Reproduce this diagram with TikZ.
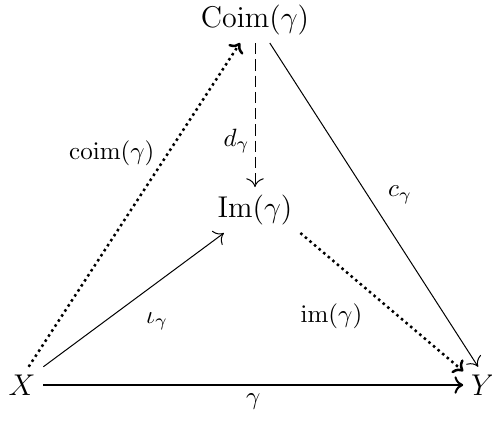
\documentclass[tikz,border=0pt]{standalone}
\usepackage{amsmath}
\usepackage{amssymb}
\usetikzlibrary{calc,arrows.meta}
\usetikzlibrary{positioning}
\begin{document}
\begin{tikzpicture}[x=0.4pt,y=-0.4pt,>={To[length=3.5pt,width=7pt]}]
        \useasboundingbox (0,0) rectangle (492,422);
        \tikzset{obj/.style={font=\large,inner sep=3pt},
                 lbl/.style={font=\normalsize,inner sep=2pt},
                 dotarr/.style={->,line width=1pt,dash pattern=on 1pt off 1.4pt}}
        \node[obj] (coim) at (255,20) {$\mathrm{Coim}(\gamma)$};
        \node[obj] (im) at (255,210) {$\mathrm{Im}(\gamma)$};
        \node[obj] (x) at (22,385) {$X$};
        \node[obj] (y) at (483,385) {$Y$};
        \draw[->,dash pattern=on 4.5pt off 2pt] (coim) -- node[lbl,left,pos=0.68] {$d_\gamma$} (im);
        \draw[dotarr] (x.70) -- node[lbl,left=3pt,pos=0.66] {$\mathrm{coim}(\gamma)$} (coim);
        \draw[->] (coim) -- node[lbl,right=6pt,pos=0.47] {$c_\gamma$} (y.105);
        \draw[->] (x.north east) -- node[lbl,below right=4pt,pos=0.5] {$\iota_\gamma$} (im);
        \draw[dotarr] (im.south east) -- node[lbl,below left=2pt,pos=0.44] {$\mathrm{im}(\gamma)$} (y.145);
        \draw[->,line width=0.8pt] (x) -- node[lbl,below=1pt] {$\gamma$} (y);
    \end{tikzpicture}
\end{document}
